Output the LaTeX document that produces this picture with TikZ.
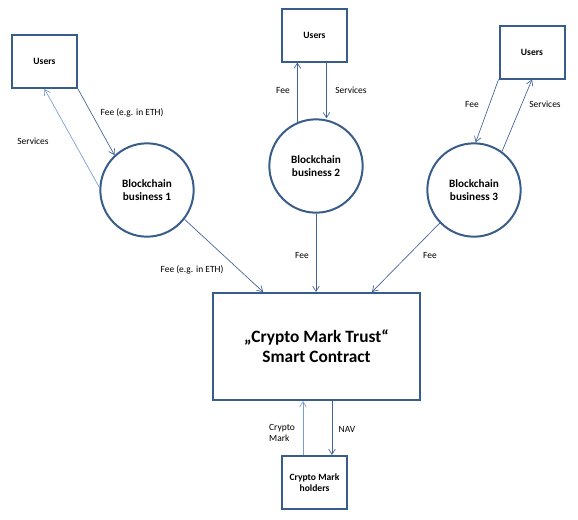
\documentclass[tikz,border=0pt]{standalone}
\usepackage{fontspec}
\setmainfont{Carlito}
\usetikzlibrary{arrows.meta,positioning}
\definecolor{frameblue}{RGB}{56,93,138}
\definecolor{flowblue}{RGB}{64,98,148}
\definecolor{paleblue}{RGB}{118,158,208}

\begin{document}
\begin{tikzpicture}[x=0.75pt, y=-0.75pt,
  party/.style={rectangle, draw=frameblue, line width=1.5pt,
                minimum width=48.75pt, minimum height=39.75pt,
                font=\fontsize{7.2}{8.6}\selectfont\bfseries, align=center},
  business/.style={circle, draw=frameblue, line width=1.5pt,
                   minimum size=70pt, inner sep=0pt,
                   font=\fontsize{8.4}{10.2}\selectfont\bfseries, align=center},
  contract/.style={rectangle, draw=frameblue, line width=1.5pt,
                   minimum width=155.25pt, minimum height=80.25pt,
                   font=\fontsize{13}{15}\selectfont\bfseries, align=center},
  flow/.style={-{Straight Barb[length=4pt,width=5pt]}, line width=0.5pt, color=#1},
  flow/.default=flowblue,
  tag/.style={font=\fontsize{7.1}{8.6}\selectfont, inner sep=1pt}
]
  \useasboundingbox (0,0) rectangle (578,519);

  % Users on top
  \node[party] (users1) at (44.5,61.5) {Users};
  \node[party] (users2) at (314.5,35)  {Users};
  \node[party] (users3) at (532,52)    {Users};

  % Blockchain businesses
  \node[business] (bb1) at (147,190) {Blockchain\\business 1};
  \node[business] (bb2) at (316,166) {Blockchain\\business 2};
  \node[business] (bb3) at (474,190) {Blockchain\\business 3};

  % Smart contract and holders
  \node[contract] (trust) at (316.5,346.5)
    {„Crypto Mark Trust“\\Smart Contract};
  \node[party] (holders) at (314.5,482.5) {Crypto Mark\\holders};

  % Users <-> businesses
  \draw[flow] (users1.south east) -- (bb1.133);
  \draw[flow=paleblue] (bb1.177) -- (users1.south);
  \draw[flow] (bb2.113) -- (bb2.113 |- users2.south);
  \draw[flow] ([xshift=9pt]users2.south) -- ([xshift=9pt]users2.south |- bb2.north);
  \draw[flow] (users3.south west) -- (bb3.88);
  \draw[flow] (bb3.54) -- (users3.south);

  % Businesses -> contract
  \draw[flow] (bb1.-38) -- ([xshift=-40pt]trust.north);
  \draw[flow] (bb2.south) -- (bb2.south |- trust.north);
  \draw[flow] (bb3.224) -- ([xshift=41.6pt]trust.north);

  % Contract <-> holders
  \draw[flow=paleblue] ([xshift=-8.6pt]holders.north) -- ([xshift=-8.6pt]holders.north |- trust.south);
  \draw[flow] ([xshift=13.1pt]holders.north |- trust.south) -- ([xshift=13.1pt]holders.north);

  % Labels
  \node[tag] (lfee1) at (132,113) {Fee (e.g. in ETH)};
  \node[tag] (lsrv1) at (33,141)  {Services};
  \node[tag] (lfee2) at (283,90)  {Fee};
  \node[tag] (lsrv2) at (351,90)  {Services};
  \node[tag] (lfee3) at (472,104) {Fee};
  \node[tag] (lsrv3) at (545,104) {Services};
  \node[tag] (lfeea) at (192,270) {Fee (e.g. in ETH)};
  \node[tag] (lfeeb) at (302,255) {Fee};
  \node[tag] (lfeec) at (430,255) {Fee};
  \node[tag, align=left] (lmark) at (282,433) {Crypto\\Mark};
  \node[tag] (lnav) at (347,429) {NAV};
\end{tikzpicture}
\end{document}
